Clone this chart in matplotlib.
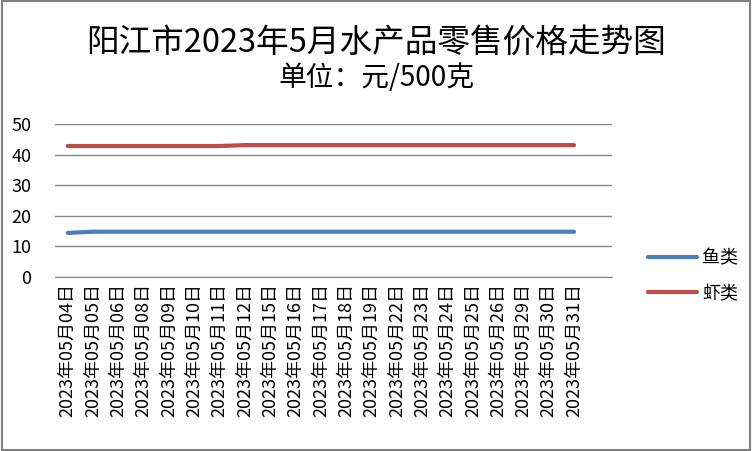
import matplotlib
matplotlib.use("Agg")
import matplotlib.pyplot as plt
from matplotlib.patches import Rectangle

plt.rcParams['font.family'] = ['Noto Sans CJK SC', 'DejaVu Sans']

# data
dates = ["04", "05", "06", "08", "09", "10", "11", "12", "15", "16", "17",
         "18", "19", "22", "23", "24", "25", "26", "29", "30", "31"]
labels = ["2023年05月" + d + "日" for d in dates]
fish = [14.4] + [14.8] * 20
shrimp = [42.8] * 7 + [43.1] * 14

fig = plt.figure(figsize=(7.53, 4.51), dpi=100)
fig.patches.append(Rectangle((0.002, 0.003), 0.994, 0.994, transform=fig.transFigure,
                             fill=False, edgecolor="#808080", linewidth=1.5))

ax = fig.add_axes([55 / 753, 1 - 277 / 451, 557 / 753, 153 / 451])
x = list(range(len(labels)))
ax.plot(x, fish, color="#4a7ebb", linewidth=3, solid_capstyle="round", label="鱼类")
ax.plot(x, shrimp, color="#be4b48", linewidth=3, solid_capstyle="round", label="虾类")

# the source chart leaves one empty category slot at the right
ax.set_xlim(-0.5, len(labels) + 0.5)
ax.set_ylim(0, 50)
ax.set_yticks([0, 10, 20, 30, 40, 50])
ax.yaxis.grid(True, color="#868686", linewidth=1)
ax.set_axisbelow(True)
for s in ["top", "right", "left"]:
    ax.spines[s].set_visible(False)
ax.spines["bottom"].set_color("#868686")
ax.tick_params(axis="y", length=0, labelsize=13, pad=17)
ax.tick_params(axis="x", length=0, labelsize=13, pad=4)
ax.set_xticks(x)
ax.set_xticklabels(labels, rotation=90)

fig.text(0.5, 1 - 43 / 451, "阳江市2023年5月水产品零售价格走势图", ha="center", va="center",
         fontsize=23.5)
fig.text(0.5, 1 - 78 / 451, "单位：元/500克", ha="center", va="center", fontsize=20)

fig.legend(loc="center left", bbox_to_anchor=(632 / 753, 1 - 276 / 451), frameon=False,
           fontsize=13, handlelength=2.7, labelspacing=0.95, handletextpad=0.3)

fig.savefig("out.png", dpi=100)
